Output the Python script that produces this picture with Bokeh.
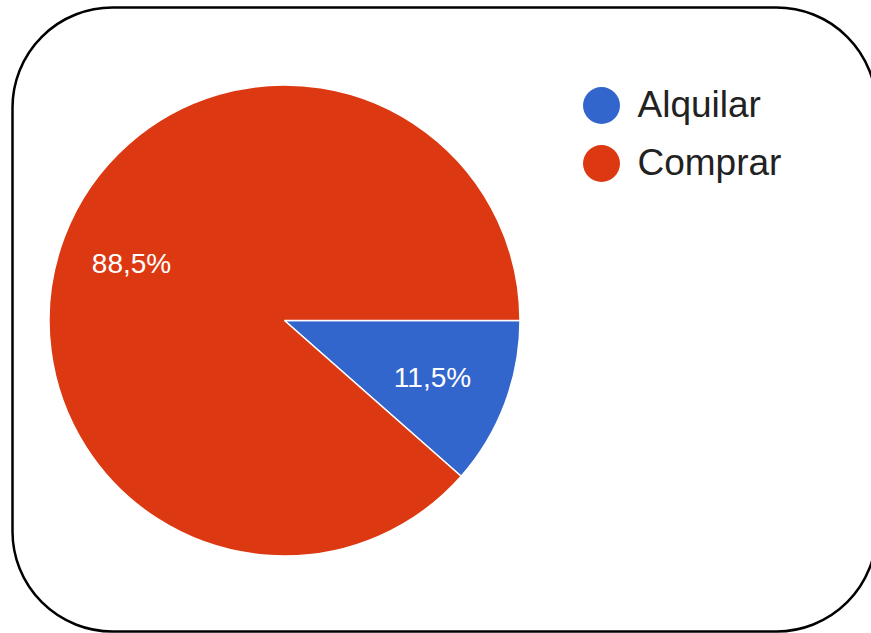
import math
from bokeh.plotting import figure
from bokeh.models import Range1d, BoxAnnotation, ColumnDataSource
from bokeh.core.properties import value
from bokeh.embed import file_html
from bokeh.resources import INLINE

# ---- data ----
categories = ["Alquilar", "Comprar"]
percents = [11.5, 88.5]
labels = ["11,5%", "88,5%"]
colors = ["#3366cc", "#dc3912"]

# ---- layout (page pixel coords: x right, y measured from top) ----
W, H = 871, 633
PX0, PY0 = 0, 0
def ydat(py):
    return 633 - py

cx, cy, r = 284, ydat(320), 235.5

# wedge angles: start at 3 o'clock, go clockwise
cum = 0.0
starts, ends = [], []
for pct in percents:
    a0 = -2 * math.pi * cum / 100.0
    cum += pct
    a1 = -2 * math.pi * cum / 100.0
    starts.append(a1)
    ends.append(a0)

src = ColumnDataSource(dict(cat=categories, pct=percents, lab=labels,
                            color=colors, start=starts, end=ends))

p = figure(width=W, height=H, output_backend="svg", toolbar_location=None,
           x_range=Range1d(PX0, PX0 + W), y_range=Range1d(ydat(PY0 + H), ydat(PY0)),
           min_border=0, background_fill_color="white", border_fill_color="white")
p.axis.visible = False
p.grid.visible = False
p.outline_line_color = None

# rounded border
p.add_layout(BoxAnnotation(left=12, right=876, top=ydat(7), bottom=ydat(631),
                           fill_color=None, fill_alpha=0, line_color="black",
                           line_alpha=1.0, line_width=2.5, border_radius=100))

p.wedge(x=cx, y=cy, radius=r, start_angle="start", end_angle="end",
        direction="anticlock", fill_color="color", line_color="white",
        line_width=1.5, source=src)

# slice labels (positions only)
lab_x = [432, 131]
lab_y = [ydat(377), ydat(263)]
p.text(x=lab_x, y=lab_y, text=labels, text_color="white",
       text_font=value("Liberation Sans"), text_font_size="28px",
       text_align="center", text_baseline="middle")

# legend
leg_x = 601
leg_y = [ydat(105), ydat(163)]
p.scatter(x=[leg_x] * len(categories), y=leg_y, marker="circle", size=37,
          fill_color=colors, line_color=None)
p.text(x=[637] * len(categories), y=[ydat(104), ydat(162)], text=categories,
       text_color="#222222", text_font=value("Liberation Sans"),
       text_font_size="37px", text_align="left", text_baseline="middle")

open("out.html", "w").write(file_html(p, INLINE))
